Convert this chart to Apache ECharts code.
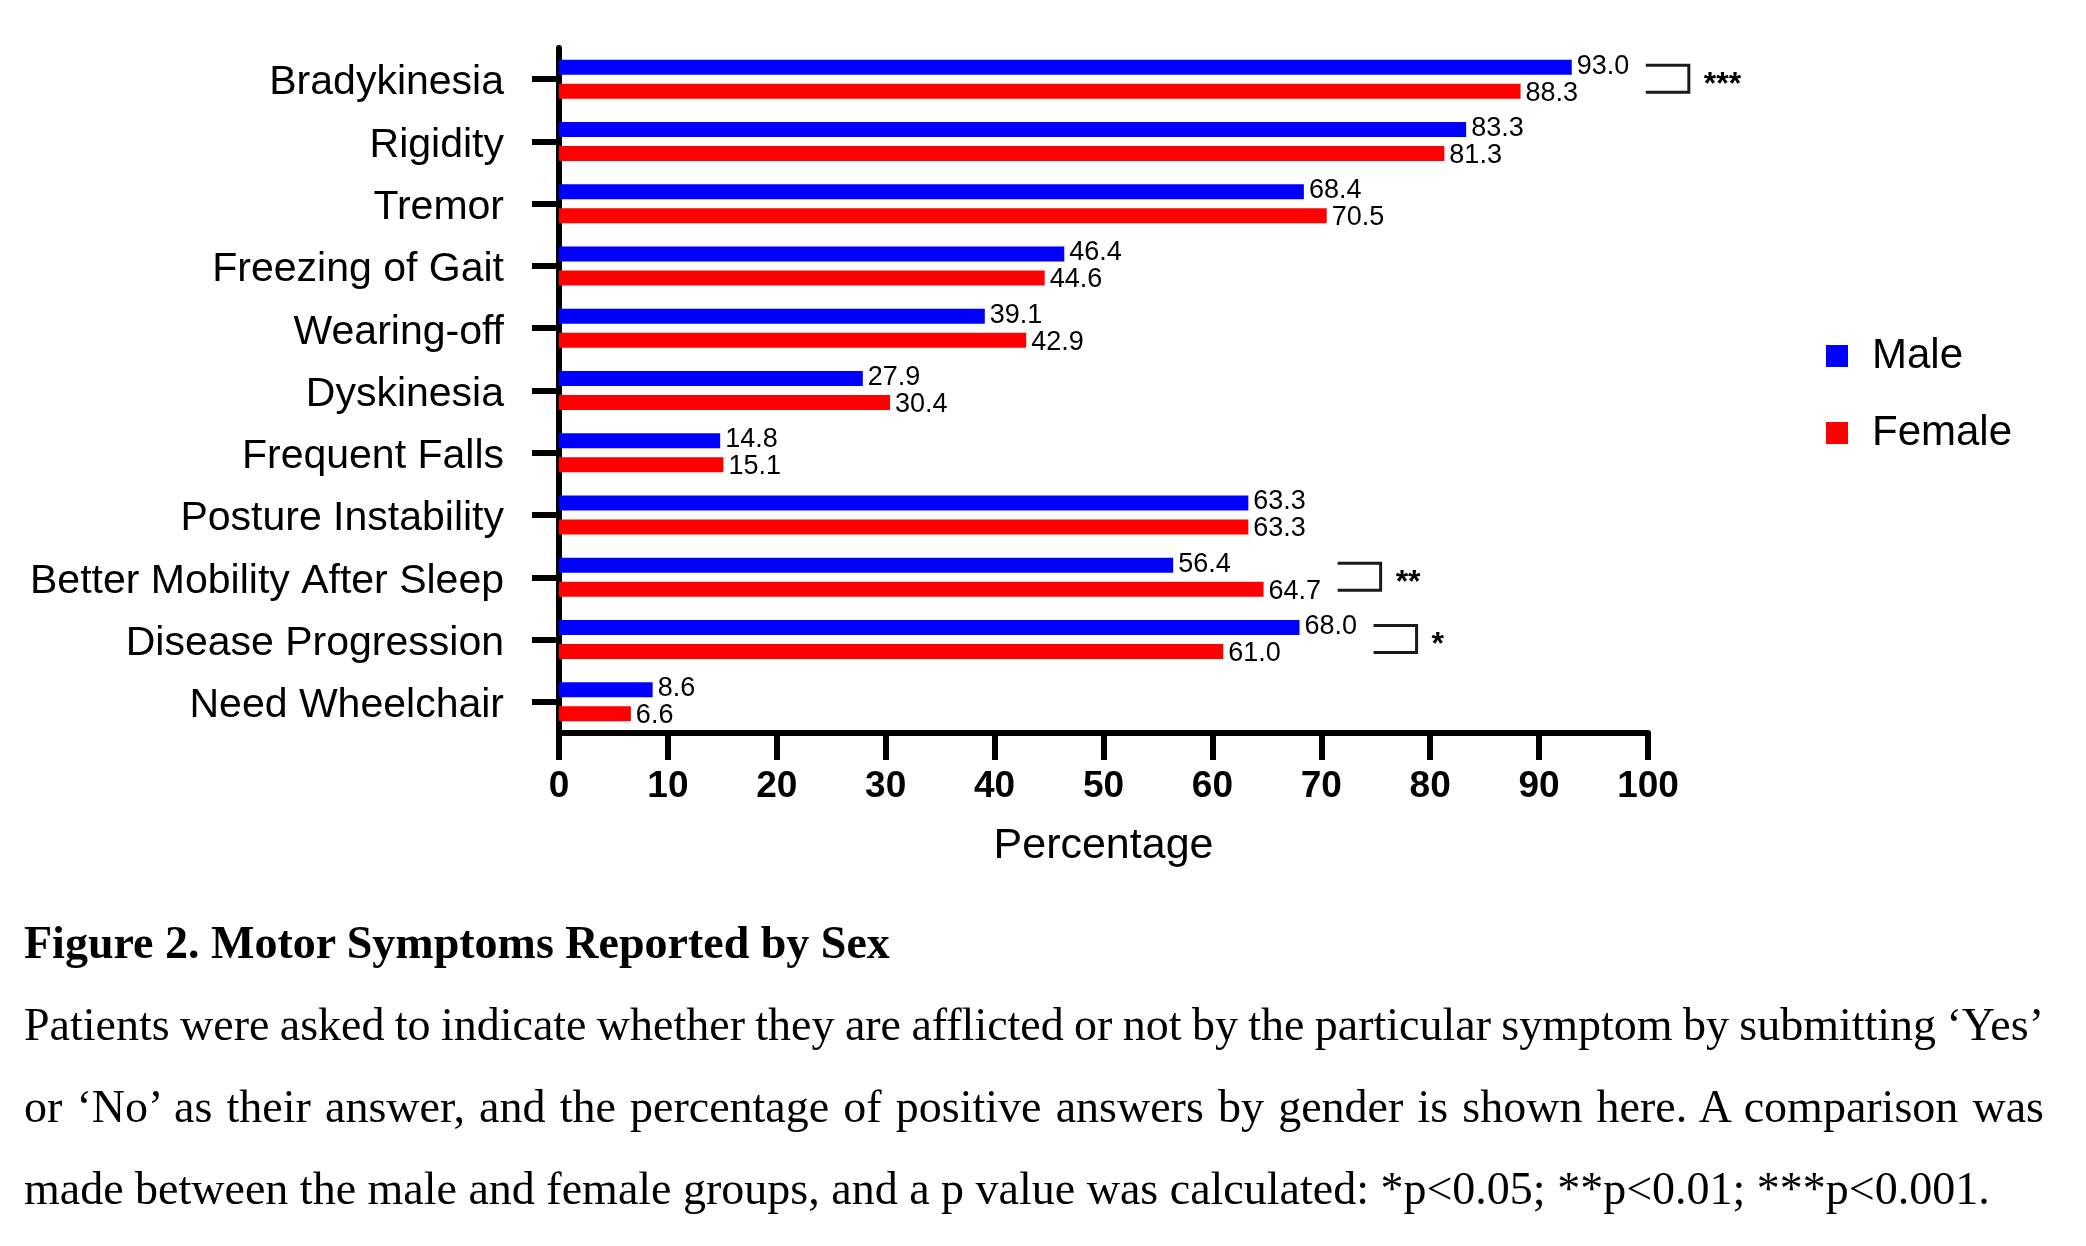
<!DOCTYPE html>
<html>
<head>
<meta charset="utf-8">
<script src="https://cdn.jsdelivr.net/npm/echarts@6/dist/echarts.min.js"></script>
<style>
  html, body { margin: 0; padding: 0; background: #fff; }
  #chart { position: absolute; left: 0; top: 0; width: 2086px; height: 1246px; }
  #caption {
    position: absolute; left: 24px; top: 902px; width: 2020px;
    font-family: "Liberation Serif", "Times New Roman", serif;
    font-size: 46px; line-height: 82px; color: #000;
  }
  #caption .t { font-weight: bold; text-align: left; }
  #caption .j { text-align: justify; text-align-last: justify; white-space: nowrap; }
  #caption .s { word-spacing: -2.5px; }
  #caption .l { text-align: left; white-space: nowrap; }
</style>
</head>
<body>
<div id="chart"></div>
<div id="caption">
  <div class="t">Figure 2. Motor Symptoms Reported by Sex</div>
  <div class="j s">Patients were asked to indicate whether they are afflicted or not by the particular symptom by submitting ‘Yes’</div>
  <div class="j">or ‘No’ as their answer, and the percentage of positive answers by gender is shown here. A comparison was</div>
  <div class="l">made between the male and female groups, and a p value was calculated: *p&lt;0.05; **p&lt;0.01; ***p&lt;0.001.</div>
</div>
<script>
const categories = ['Bradykinesia', 'Rigidity', 'Tremor', 'Freezing of Gait', 'Wearing-off', 'Dyskinesia', 'Frequent Falls', 'Posture Instability', 'Better Mobility After Sleep', 'Disease Progression', 'Need Wheelchair'];
const maleValues = [93.0, 83.3, 68.4, 46.4, 39.1, 27.9, 14.8, 63.3, 56.4, 68.0, 8.6];
const femaleValues = [88.3, 81.3, 70.5, 44.6, 42.9, 30.4, 15.1, 63.3, 64.7, 61.0, 6.6];
const xTicks = [0, 10, 20, 30, 40, 50, 60, 70, 80, 90, 100];
const sigCategories = ['Bradykinesia', 'Better Mobility After Sleep', 'Disease Progression'];
const sigStars = ['***', '**', '*'];

const FONT = '"Liberation Sans", Arial, Helvetica, sans-serif';

// bracket data: [category index, start value (past the longer bar and its label), stars]
const bracketData = sigCategories.map((c, i) => {
  const idx = categories.indexOf(c);
  return [idx, Math.max(maleValues[idx], femaleValues[idx]) + 6.8, sigStars[i]];
});

const chart = echarts.init(document.getElementById('chart'), null, { renderer: 'canvas' });

function labelOpt(dy) {
  return {
    show: true, position: 'right', distance: 5, offset: [0, dy],
    color: '#000', fontFamily: FONT, fontSize: 27,
    formatter: p => p.value.toFixed(1)
  };
}

chart.setOption({
  backgroundColor: '#fff',
  animation: false,
  grid: { left: 559, right: 438, top: 48, height: 685, containLabel: false },
  legend: {
    orient: 'vertical', left: 1826, top: 335, padding: 0,
    itemWidth: 22, itemHeight: 22, itemGap: 35, icon: 'rect',
    textStyle: { fontFamily: FONT, fontSize: 42, color: '#000', lineHeight: 42, padding: [0, 0, 0, 19] },
    data: ['Male', 'Female']
  },
  xAxis: {
    type: 'value', min: xTicks[0], max: xTicks[xTicks.length - 1], interval: 10,
    name: 'Percentage', nameLocation: 'middle', nameGap: 92,
    nameTextStyle: { fontFamily: FONT, fontSize: 43, color: '#000' },
    axisLine: { show: true, lineStyle: { color: '#000', width: 6 } },
    axisTick: { show: true, length: 27, lineStyle: { color: '#000', width: 6 } },
    axisLabel: { fontFamily: FONT, fontSize: 37, fontWeight: 'bold', color: '#000', margin: 35 },
    splitLine: { show: false }
  },
  yAxis: {
    type: 'category', data: categories, inverse: true,
    axisLine: { show: true, lineStyle: { color: '#000', width: 6 } },
    axisTick: { show: true, alignWithLabel: true, length: 27, lineStyle: { color: '#000', width: 6 } },
    axisLabel: { fontFamily: FONT, fontSize: 41, color: '#000', margin: 55, interval: 0,
      verticalAlign: 'top', lineHeight: 8 },
    splitLine: { show: false }
  },
  series: [
    {
      name: 'Male', type: 'bar', data: maleValues, barWidth: 15, barGap: '60%',
      itemStyle: { color: '#0000ff' }, label: labelOpt(-1), z: 1
    },
    {
      name: 'Female', type: 'bar', data: femaleValues, barWidth: 15, barGap: '60%',
      itemStyle: { color: '#ff0000' }, label: labelOpt(2), z: 1
    },
    {
      type: 'custom', data: bracketData, encode: { x: 1, y: 0 }, silent: true, z: 5,
      renderItem: function (params, api) {
        const idx = api.value(0);
        const p = api.coord([api.value(1), idx]);
        const stars = bracketData[params.dataIndex][2];
        const x0 = p[0], x1 = x0 + 43, yc = p[1];
        const top = yc - 14, bot = yc + 13;
        return {
          type: 'group',
          children: [
            { type: 'polyline', shape: { points: [[x0, top], [x1, top], [x1, bot], [x0, bot]] },
              style: { stroke: '#1a1a1a', lineWidth: 3, fill: null } },
            { type: 'text', style: { text: stars, x: x1 + 15, y: yc + 6, fill: '#000',
              font: 'bold 32px ' + FONT, textAlign: 'left', textVerticalAlign: 'middle' } }
          ]
        };
      }
    }
  ]
});
</script>
</body>
</html>
